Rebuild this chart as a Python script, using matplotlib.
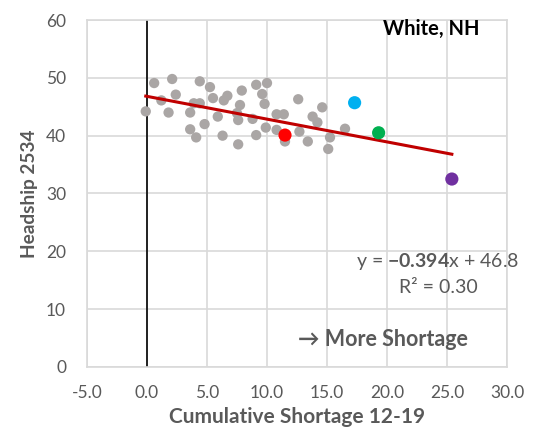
import matplotlib.pyplot as plt
import numpy as np

plt.rcParams["font.family"] = ["Lato", "DejaVu Sans"]
plt.rcParams["mathtext.fontset"] = "custom"
plt.rcParams["mathtext.rm"] = "Lato"
plt.rcParams["mathtext.bf"] = "Lato:bold"

# other states (gray)
shortage = [-0.1, 0.6, 2.1, 1.2, 2.4, 1.8, 3.6, 3.9, 4.4, 4.4, 5.25, 5.5, 6.4, 6.7,
            5.9, 4.8, 3.6, 4.1, 6.3, 7.6, 7.9, 7.75, 7.5, 7.6, 8.8, 9.1, 10.0, 9.6,
            9.8, 10.8, 11.4, 9.9, 9.1, 10.8, 11.5, 12.6, 12.7, 13.8, 14.2, 14.6,
            13.4, 15.25, 15.1, 16.5]
headship = [44.2, 49.1, 49.8, 46.1, 47.1, 44.0, 44.0, 45.6, 45.6, 49.4, 48.4, 46.5,
            46.1, 46.9, 43.3, 42.0, 41.1, 39.7, 40.0, 38.5, 47.8, 45.3, 43.9, 42.7,
            42.9, 48.8, 49.1, 47.2, 45.5, 43.7, 43.7, 41.4, 40.1, 41.0, 39.0, 46.3,
            40.7, 43.3, 42.3, 44.9, 39.0, 39.7, 37.7, 41.2]

# highlighted states
hi_x = [11.5, 17.3, 19.3, 25.4]
hi_y = [40.1, 45.7, 40.5, 32.5]
hi_colors = ['#ff0000', '#00b0f0', '#00b050', '#7030a0']

slope = -0.394
intercept = 46.8
r2 = 0.30

gray_txt = '#595959'

fig = plt.figure(figsize=(5.4, 4.4), dpi=100)
ax = fig.add_axes([0.161, 0.166, 0.778, 0.7885])

ax.set_xlim(-5, 30)
ax.set_ylim(0, 60)
ax.set_xticks(np.arange(-5, 31, 5))
ax.set_xticklabels([f"{v:.1f}" for v in np.arange(-5, 31, 5)])
ax.set_yticks(np.arange(0, 61, 10))
ax.grid(color='#d9d9d9', linewidth=1.2)
ax.set_axisbelow(True)
for s in ax.spines.values():
    s.set_color('#d9d9d9')
    s.set_linewidth(1.2)
ax.tick_params(length=0, labelsize=12.5, colors=gray_txt)
ax.tick_params(axis='x', pad=13)
ax.tick_params(axis='y', pad=15)

ax.axvline(0, color='black', linewidth=1.2, zorder=1)

all_x = shortage + hi_x
xs = np.array([min(all_x), max(all_x)])
ax.scatter(shortage, headship, s=55, color='#aaa6a5', edgecolors='none', zorder=2)
ax.plot(xs, slope * xs + intercept, color='#c00000', linewidth=2.2, zorder=3)
ax.scatter(hi_x, hi_y, s=90, color=hi_colors, edgecolors='none', zorder=4)

ax.text(24.25, 18.3, r"y = $\mathbf{-%.3f}$x + %.1f" % (-slope, intercept),
        ha='center', va='center', fontsize=14, color=gray_txt)
ax.text(24.25, 13.7, f"R² = {r2:.2f}", ha='center', va='center',
        fontsize=14, color=gray_txt)
ax.text(19.7, 4.7, "→ More Shortage", ha='center', va='center',
        fontsize=15.5, fontweight='bold', color=gray_txt)
ax.text(23.7, 58.4, "White, NH", ha='center', va='center',
        fontsize=14.5, fontweight='bold', color='black')

ax.set_xlabel("Cumulative Shortage 12-19", fontsize=15, fontweight='bold',
              color=gray_txt, labelpad=4)
ax.set_ylabel("Headship 2534", fontsize=13.7, fontweight='bold',
              color=gray_txt, labelpad=6)

fig.savefig("out.png", dpi=100)
